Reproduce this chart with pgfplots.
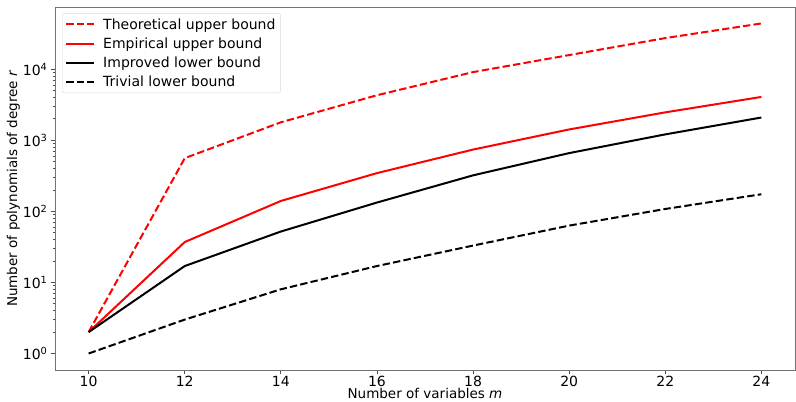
\documentclass[border=0pt]{standalone}
\usepackage{fontspec}
\setmainfont{DejaVu Sans}
\usepackage{pgfplots}
\pgfplotsset{compat=1.18}
\begin{document}
\begin{tikzpicture}
\begin{axis}[
  scale only axis,
  width=740pt, height=363pt,
  ymode=log,
  xmin=9.3, xmax=24.7,
  ymin=0.586, ymax=75000,
  xtick={10,12,14,16,18,20,22,24},
  ytick={1,10,100,1000,10000},
  yticklabels={10\textsuperscript{0},10\textsuperscript{1},10\textsuperscript{2},10\textsuperscript{3},10\textsuperscript{4}},
  /pgf/number format/assume math mode=true,
  tick align=outside,
  xtick pos=bottom, ytick pos=left,
  major tick length=4pt, minor tick length=2.3pt,
  tick style={black!70, line width=0.8pt},
  axis line style={black!55, line width=0.8pt},
  ticklabel style={font=\fontsize{14}{16}\selectfont},
  xticklabel style={yshift=1.5pt},
  label style={font=\fontsize{13.5}{15}\selectfont},
  xlabel={Number of variables \textit{m}},
  ylabel={Number of polynomials of degree \textit{r}},
  xlabel style={at={(axis description cs:0.5,0)}, anchor=base, yshift=-28.5pt},
  ylabel style={yshift=-4pt},
  legend cell align=left,
  legend style={at={(0.0095,0.983)}, anchor=north west, draw=black!15, rounded corners=2pt,
    font=\fontsize{14}{16}\selectfont, row sep=3pt, column sep=6pt, inner xsep=3pt, inner ysep=3pt},
  legend image code/.code={\draw[#1] (0pt,0pt) -- (28pt,0pt);},
]
\addplot[red, line width=2pt, dash pattern=on 7.4pt off 3.2pt] coordinates {
(10,2) (12,560) (14,1790) (16,4300) (18,9100) (20,15800) (22,27400) (24,44000)};
\addlegendentry{Theoretical upper bound}
\addplot[red, line width=2pt] coordinates {
(10,2) (12,37) (14,140) (16,345) (18,740) (20,1420) (22,2470) (24,4070)};
\addlegendentry{Empirical upper bound}
\addplot[black, line width=2pt] coordinates {
(10,2) (12,17) (14,52) (16,133) (18,321) (20,660) (22,1210) (24,2090)};
\addlegendentry{Improved lower bound}
\addplot[black, line width=2pt, dash pattern=on 7.4pt off 3.2pt] coordinates {
(10,1) (12,3) (14,8) (16,17) (18,33) (20,63) (22,108) (24,174)};
\addlegendentry{Trivial lower bound}
\end{axis}
\pgfresetboundingbox
\useasboundingbox ([shift={(-55pt,-32pt)}]current axis.south west) rectangle ([shift={(1pt,7pt)}]current axis.north east);
\end{tikzpicture}
\end{document}
